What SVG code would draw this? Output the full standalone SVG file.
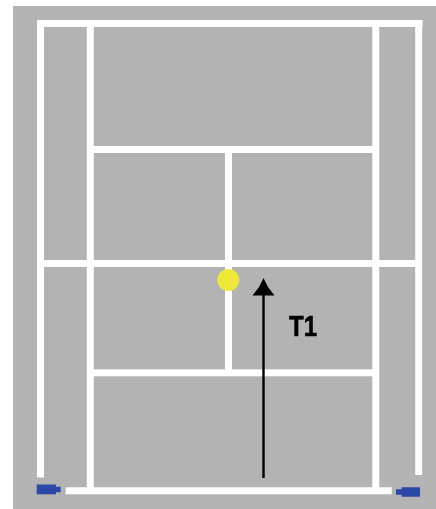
<svg xmlns="http://www.w3.org/2000/svg" width="436" height="509" viewBox="0 0 436 509">
<defs>
<style>
.l{fill:#fff}
.b{fill:#2b4aa6}
.t{font-family:"Liberation Sans",Arial,sans-serif;font-weight:bold;font-size:24px;fill:#000;stroke:#000;stroke-width:.5px}
</style>
<filter id="soft" x="-5%" y="-5%" width="110%" height="110%"><feGaussianBlur stdDeviation="0.45"/></filter>
</defs>
<rect width="436" height="509" fill="#fff"/>
<rect x="13" y="6" width="423" height="503" fill="#b3b3b3"/>
<g id="court" filter="url(#soft)">
<rect class="l" x="37" y="20" width="385.5" height="7"/>
<rect class="l" x="37" y="20" width="7" height="457.5"/>
<rect class="l" x="415.2" y="20" width="7" height="455"/>
<rect class="l" x="86.8" y="20" width="7" height="474"/>
<rect class="l" x="372.3" y="20" width="7" height="474"/>
<rect class="l" x="87" y="146" width="292" height="7"/>
<rect class="l" x="37" y="260" width="385" height="7"/>
<rect class="l" x="87" y="369.3" width="292" height="7"/>
<rect class="l" x="225" y="150" width="7" height="222"/>
<rect class="l" x="65.7" y="487.3" width="326" height="7"/>
</g>
<g id="ball" filter="url(#soft)"><circle cx="228.3" cy="280" r="11" fill="#f0e838"/></g>
<g id="markers" filter="url(#soft)">
<path class="b" d="M36.7 484.5H56V486.7H60.7V492.3H56V494.3H36.7Z"/>
<path class="b" d="M420 487.3H401.7V489.3H396V494.7H401.7V496.7H420Z"/>
</g>
<g id="connectors" filter="url(#soft)">
<line x1="263.5" y1="478" x2="263.5" y2="292" stroke="#000" stroke-width="2.4"/>
<path d="M263.5 278L268 287L274.5 295.5H252.5L259 287Z" fill="#000"/>
</g>
<g id="label" filter="url(#soft)"><text class="t" x="289" y="336" textLength="28" lengthAdjust="spacingAndGlyphs" transform="translate(0 -67.2) scale(1 1.2)">T1</text></g>
</svg>
